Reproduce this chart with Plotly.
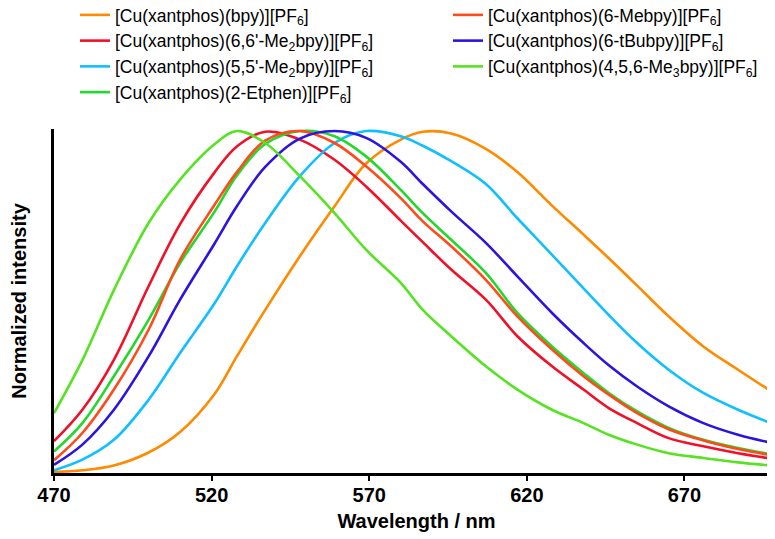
import plotly.graph_objects as go

wavelength = [470, 479, 489, 500, 510, 521, 528, 537, 548, 559, 569, 580,
              587, 596, 607, 617, 628, 638, 646, 655, 665, 676, 687, 700]

bpy = [0.003, 0.008, 0.022, 0.060, 0.120, 0.232, 0.341, 0.477, 0.634, 0.780, 0.905, 0.975,
       0.998, 0.993, 0.948, 0.880, 0.782, 0.697, 0.628, 0.548, 0.458, 0.370, 0.302, 0.224]
me6 = [0.037, 0.117, 0.244, 0.419, 0.624, 0.785, 0.880, 0.972, 1.000, 0.965, 0.897, 0.804,
       0.736, 0.663, 0.565, 0.458, 0.361, 0.283, 0.229, 0.175, 0.128, 0.095, 0.070, 0.048]
me2_66 = [0.093, 0.185, 0.331, 0.546, 0.728, 0.880, 0.955, 0.998, 0.975, 0.916, 0.838, 0.738,
          0.675, 0.595, 0.507, 0.400, 0.312, 0.244, 0.190, 0.146, 0.102, 0.078, 0.058, 0.039]
tbu = [0.024, 0.083, 0.185, 0.341, 0.507, 0.672, 0.780, 0.895, 0.978, 1.000, 0.980, 0.910,
       0.845, 0.765, 0.673, 0.575, 0.468, 0.380, 0.315, 0.253, 0.195, 0.146, 0.112, 0.083]
me2_55 = [0.008, 0.039, 0.097, 0.214, 0.351, 0.497, 0.604, 0.731, 0.868, 0.965, 1.000, 0.985,
          0.957, 0.912, 0.845, 0.745, 0.638, 0.540, 0.462, 0.380, 0.302, 0.234, 0.185, 0.137]
me3 = [0.175, 0.330, 0.535, 0.731, 0.858, 0.962, 1.000, 0.965, 0.868, 0.760, 0.653, 0.556,
       0.477, 0.400, 0.312, 0.244, 0.185, 0.146, 0.112, 0.083, 0.058, 0.044, 0.031, 0.020]
etphen = [0.063, 0.146, 0.283, 0.448, 0.614, 0.765, 0.870, 0.962, 1.000, 0.985, 0.926, 0.828,
          0.760, 0.682, 0.585, 0.468, 0.370, 0.292, 0.234, 0.180, 0.132, 0.097, 0.073, 0.051]

names = {
    "bpy": "[Cu(xantphos)(bpy)][PF<sub>6</sub>]",
    "me6": "[Cu(xantphos)(6-Mebpy)][PF<sub>6</sub>]",
    "me2_66": "[Cu(xantphos)(6,6'-Me<sub>2</sub>bpy)][PF<sub>6</sub>]",
    "tbu": "[Cu(xantphos)(6-tBubpy)][PF<sub>6</sub>]",
    "me2_55": "[Cu(xantphos)(5,5'-Me<sub>2</sub>bpy)][PF<sub>6</sub>]",
    "me3": "[Cu(xantphos)(4,5,6-Me<sub>3</sub>bpy)][PF<sub>6</sub>]",
    "etphen": "[Cu(xantphos)(2-Etphen)][PF<sub>6</sub>]",
}
data = {"bpy": bpy, "me6": me6, "me2_66": me2_66, "tbu": tbu,
        "me2_55": me2_55, "me3": me3, "etphen": etphen}
colors = {"bpy": "#FF8A00", "me6": "#FF4A1C", "me2_66": "#F01028", "tbu": "#2C14E0",
          "me2_55": "#10BFFF", "me3": "#55E322", "etphen": "#22D82A"}
legend_of = {"bpy": "legend", "me2_66": "legend", "me2_55": "legend", "etphen": "legend",
             "me6": "legend2", "tbu": "legend2", "me3": "legend2"}
order = ["bpy", "me2_66", "me2_55", "etphen", "me6", "tbu", "me3"]

FONT = "Arial, Liberation Sans, sans-serif"

fig = go.Figure()
for k in order:
    fig.add_trace(go.Scatter(x=wavelength, y=data[k], mode="lines", name=names[k],
                             legend=legend_of[k],
                             line=dict(color=colors[k], width=2.6, shape="spline", smoothing=1.0)))

plot_h = 539 - 121 - 74
leg_y = 1 + (121 + 11) / plot_h

common_leg = dict(orientation="v", xanchor="left", yanchor="top", xref="paper", yref="paper",
                  y=leg_y, font=dict(size=17.5, family=FONT), itemwidth=30,
                  bgcolor="rgba(0,0,0,0)", traceorder="normal")

fig.update_layout(
    width=775, height=539,
    margin=dict(l=46, r=4, t=121, b=74, autoexpand=False),
    paper_bgcolor="white", plot_bgcolor="white",
    font=dict(family=FONT, color="black"),
    showlegend=True,
    legend=dict(x=(67 - 46) / 725, **common_leg),
    legend2=dict(x=(440 - 46) / 725, **common_leg),
    xaxis=dict(range=[470, 700], tickvals=[470, 520, 570, 620, 670],
               showline=True, linecolor="black", linewidth=2.5,
               ticks="outside", ticklen=5, tickwidth=2, tickcolor="black",
               ticklabelstandoff=-3,
               tickfont=dict(size=20, family=FONT, weight="bold"),
               showgrid=False, zeroline=False,
               title=dict(text="<b>Wavelength / nm</b>", font=dict(size=20, family=FONT),
                          standoff=10)),
    yaxis=dict(range=[0, 1.006], showline=True, linecolor="black", linewidth=2.5,
               showticklabels=False, ticks="", showgrid=False, zeroline=False,
               title=dict(text="<b>Normalized intensity</b>", font=dict(size=20, family=FONT),
                          standoff=40)),
)

fig.write_html("out.html")
